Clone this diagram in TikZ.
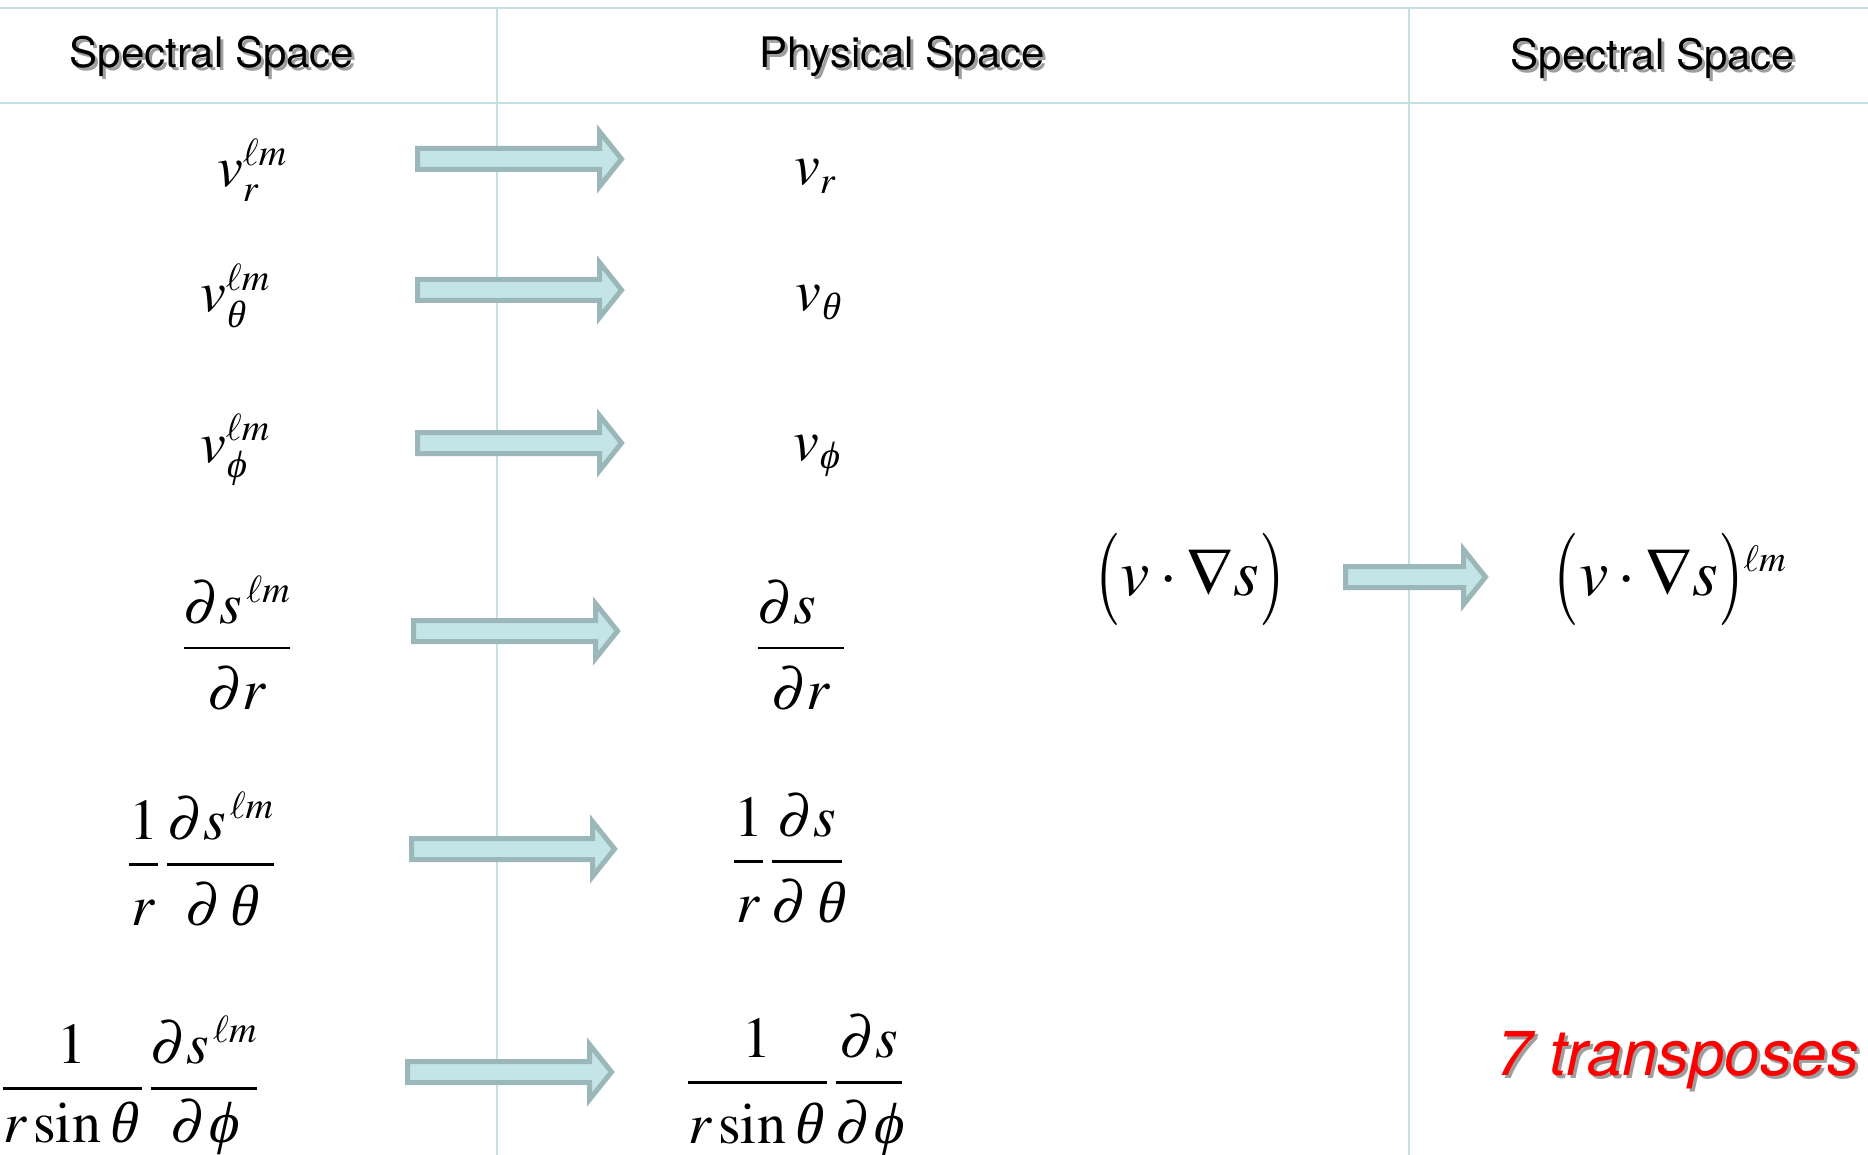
\documentclass[tikz,border=0pt]{standalone}
\usepackage{amsmath}
\usepackage{mathptmx}
\usepackage{graphicx}
\usepackage[no-math]{fontspec}
\newfontfamily\hdrfont{TeX Gyre Heros}
\newfontfamily\grkfont{Liberation Serif}[FakeSlant=0.22]
\usetikzlibrary{calc}
\DeclareMathSizes{58}{58}{38}{28}
\DeclareMathSizes{66}{66}{37}{28}
\definecolor{gridc}{HTML}{C3E1E5}
\definecolor{arrfill}{HTML}{C4E5E8}
\definecolor{arredge}{HTML}{9BB7BA}
\definecolor{shadowc}{gray}{0.62}
\newcommand\ith{\text{\grkfont θ}}
\newcommand\iphi{\text{\grkfont ϕ}}
\newcommand\dn[1]{\raisebox{-7pt}{$#1$}}
\newcommand\tparL{\mathopen{\raisebox{-7pt}{\scalebox{1}[1.4]{$($}}}}
\newcommand\tparR{\mathclose{\raisebox{-7pt}{\scalebox{1}[1.4]{$)$}}}}
\newcommand\fatarrow[2]{%
  \draw[fatarr] ($(#1)+(0,-10.5)$) -- ($(#2)+(-22,-10.5)$) -- ($(#2)+(-22,-27.5)$)
    -- (#2) -- ($(#2)+(-22,27.5)$) -- ($(#2)+(-22,10.5)$) -- ($(#1)+(0,10.5)$) -- cycle;}
\tikzset{
  gridline/.style={draw=gridc, line width=2.5pt},
  fatarr/.style={fill=arrfill, draw=arredge, line width=5pt, line join=miter},
  hdr/.style={font=\hdrfont\fontsize{42}{50}\selectfont, anchor=base, inner sep=0pt},
  hdrsh/.style={hdr, text=shadowc},
  mth/.style={font=\fontsize{58}{64}\selectfont, inner sep=0pt},
  mthbig/.style={font=\fontsize{66}{72}\selectfont, inner sep=0pt},
  redtxt/.style={font=\hdrfont\itshape\fontsize{63.5}{70}\selectfont, text=red, anchor=base west, inner sep=0pt},
  redsh/.style={redtxt, text=shadowc}
}
\begin{document}
\begin{tikzpicture}[x=1pt,y=-1pt]
\useasboundingbox (0,0) rectangle (1868,1155);
\fill[white] (0,0) rectangle (1868,1155);
% table lines
\draw[gridline] (0,8) -- (1868,8);
\draw[gridline] (0,103) -- (1868,103);
\draw[gridline] (497,8) -- (497,1155);
\draw[gridline] (1409,8) -- (1409,1155);
% headers
\node[hdrsh] (h1s) at (215,70.5) {Spectral Space};
\node[hdr] (h1) at (212,67.5) {Spectral Space};
\node[hdrsh] (h2s) at (905,70.5) {Physical Space};
\node[hdr] (h2) at (902,67.5) {Physical Space};
\node[hdrsh] (h3s) at (1656,72.5) {Spectral Space};
\node[hdr] (h3) at (1653,69.5) {Spectral Space};
% spectral column
\node[mth, anchor=base west] (s1) at (217,187) {$v_r^{\ell m}$};
\node[mth, anchor=base west] (s2) at (200,312) {$v_{\ith}^{\ell m}$};
\node[mth, anchor=base west] (s3) at (200,462) {$v_{\iphi}^{\ell m}$};
\node[mth, anchor=base] (s4) at (237,662.5) {$\dfrac{\partial s^{\,\ell m}}{\dn{\partial r}}$};
\node[mth, anchor=base] (s5) at (201.5,879) {$\dfrac{1}{\dn{r}}\,\dfrac{\partial s^{\,\ell m}}{\dn{\partial\,\ith}}$};
\node[mth, anchor=base] (s6) at (130,1103) {$\dfrac{1}{r\sin\ith\,}\,\dfrac{\partial s^{\,\ell m}}{\partial\iphi}$};
% physical column
\node[mth, anchor=base west] (p1) at (794,185) {$v_r$};
\node[mth, anchor=base west] (p2) at (795,311) {$v_{\ith}$};
\node[mth, anchor=base west] (p3) at (793,460) {$v_{\iphi}$};
\node[mth, anchor=base] (p4) at (801,662.5) {$\dfrac{\partial s\hspace{28pt}}{\dn{\partial r}}$};
\node[mth, anchor=base] (p5) at (788,876) {$\dfrac{1}{\dn{r}}\,\dfrac{\partial s}{\dn{\partial\,\ith}}$};
\node[mth, anchor=base] (p6) at (795,1097) {$\dfrac{1}{\dn{r\sin\ith\,}}\,\dfrac{\partial s}{\dn{\partial\iphi}}$};
% product
\node[mthbig, anchor=base] (m1) at (1190,595) {$\tparL v\cdot\nabla s\tparR$};
\node[mthbig, anchor=base] (m2) at (1670,595) {$\tparL v\cdot\nabla s\tparR{}^{\ell m}$};
% arrow end points
\coordinate (a1s) at (417.5,159);  \coordinate (a1e) at (621.5,159);
\coordinate (a2s) at (417.5,290);  \coordinate (a2e) at (621.5,290);
\coordinate (a3s) at (417.5,443);  \coordinate (a3e) at (621.5,443);
\coordinate (a4s) at (413.5,631);  \coordinate (a4e) at (617.5,631);
\coordinate (a5s) at (411.5,849);  \coordinate (a5e) at (614.5,849);
\coordinate (a6s) at (407.5,1072); \coordinate (a6e) at (611.5,1072);
\coordinate (a7s) at (1345.5,577); \coordinate (a7e) at (1485.5,577);
\fatarrow{a1s}{a1e}
\fatarrow{a2s}{a2e}
\fatarrow{a3s}{a3e}
\fatarrow{a4s}{a4e}
\fatarrow{a5s}{a5e}
\fatarrow{a6s}{a6e}
\fatarrow{a7s}{a7e}
% note
\node[redsh] (trs) at (1499,1078) {7 transposes};
\node[redtxt] (tr) at (1496,1075) {7 transposes};
\end{tikzpicture}
\end{document}
